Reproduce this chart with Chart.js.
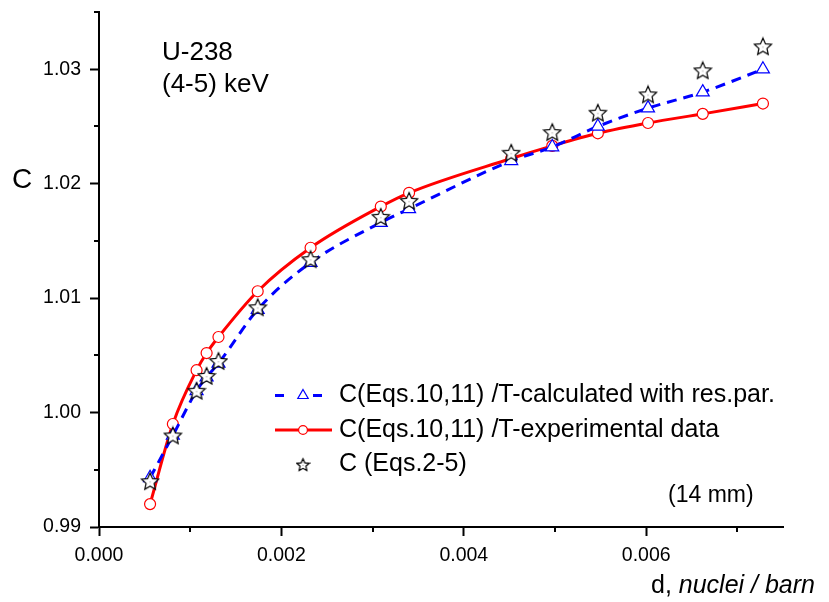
<html>
  <head>
    <title>U-238 C vs d</title>
    <style>
      body { margin: 0; background: #fff; }
    </style>
  </head>
  <body>
    <canvas id="chart" width="829" height="602"></canvas>

    <script src="https://cdn.jsdelivr.net/npm/chart.js@4"></script>
    <script type="text/javascript">
      // sample thickness d, nuclei/barn
      const thickness = [
        0.00056, 0.00081, 0.00107, 0.00118, 0.00131, 0.00174, 0.00232, 0.00309,
        0.0034, 0.00452, 0.00497, 0.00547, 0.00602, 0.00662, 0.00728,
      ];
      // C(Eqs.10,11) /T-calculated with res.par.
      const cCalculated = [
        0.9943, 0.998, 1.0019, 1.0031, 1.0043, 1.009, 1.0131, 1.0166,
        1.0178, 1.022, 1.0232, 1.025, 1.0266, 1.028, 1.03,
      ];
      // C(Eqs.10,11) /T-experimental data
      const cExperimental = [
        0.992, 0.999, 1.0037, 1.0052, 1.0066, 1.0106, 1.0144, 1.018,
        1.0192, 1.0222, 1.0233, 1.0244, 1.0253, 1.0261, 1.027,
      ];
      // C (Eqs.2-5)
      const cEqs = [
        0.994, 0.998, 1.0019, 1.0032, 1.0045, 1.0092, 1.0134, 1.0171,
        1.0185, 1.0227, 1.0245, 1.0262, 1.0278, 1.0299, 1.032,
      ];

      const seriesLabels = [
        'C(Eqs.10,11) /T-calculated with res.par.',
        'C(Eqs.10,11) /T-experimental data',
        'C (Eqs.2-5)',
      ];
      const xTicksMajor = [0, 0.002, 0.004, 0.006];
      const yTicksMajor = [0.99, 1.0, 1.01, 1.02, 1.03];

      const font = '"Liberation Sans", Arial, sans-serif';
      const toPoints = (ys) => thickness.map((x, i) => ({ x, y: ys[i] }));
      const isMajor = (list, v) => list.some((m) => Math.abs(m - v) < 1e-9);

      function makeStar(size) {
        const c = document.createElement('canvas');
        c.width = c.height = size;
        const g = c.getContext('2d');
        const cx = size / 2;
        const cy = size / 2 + 0.8;
        const outer = size / 2 - 1;
        const inner = outer * 0.47;
        g.beginPath();
        for (let i = 0; i < 10; i++) {
          const a = -Math.PI / 2 + (i * Math.PI) / 5;
          const r = i % 2 ? inner : outer;
          g.lineTo(cx + r * Math.cos(a), cy + r * Math.sin(a));
        }
        g.closePath();
        g.fillStyle = '#fff';
        g.fill();
        g.strokeStyle = '#000';
        g.lineWidth = 1.2;
        g.stroke();
        g.fillStyle = '#888';
        g.fillRect(cx - 0.5, cy - 0.5, 1, 1);
        return c;
      }
      const starImg = makeStar(20);
      const starImgSmall = makeStar(15);

      const minorTicks = {
        id: 'minorTicks',
        afterDraw(chart) {
          const { ctx } = chart;
          ctx.save();
          ctx.strokeStyle = '#000';
          ctx.lineWidth = 2;
          const xs = chart.scales.x;
          const ys = chart.scales.y;
          xs.ticks.forEach(({ value }) => {
            if (isMajor(xTicksMajor, value)) return;
            const px = Math.round(xs.getPixelForValue(value));
            ctx.beginPath();
            ctx.moveTo(px, ys.bottom);
            ctx.lineTo(px, ys.bottom + 5);
            ctx.stroke();
          });
          ys.ticks.forEach(({ value }) => {
            if (isMajor(yTicksMajor, value)) return;
            const py = Math.round(ys.getPixelForValue(value));
            ctx.beginPath();
            ctx.moveTo(xs.left, py);
            ctx.lineTo(xs.left - 5, py);
            ctx.stroke();
          });
          ctx.restore();
        },
      };

      const annotations = {
        id: 'annotations',
        afterDraw(chart) {
          const { ctx } = chart;
          ctx.save();
          ctx.fillStyle = '#000';
          ctx.textBaseline = 'alphabetic';
          ctx.textAlign = 'left';
          ctx.font = `26px ${font}`;
          ctx.fillText('U-238', 162, 60);
          ctx.fillText('(4-5) keV', 162, 92);
          ctx.font = `28px ${font}`;
          ctx.fillText('C', 12, 188);
          ctx.font = `23px ${font}`;
          ctx.fillText('(14 mm)', 668, 502);

          // x axis title, right aligned, italic units
          ctx.font = `italic 25px ${font}`;
          const unit = 'nuclei / barn';
          const wUnit = ctx.measureText(unit).width;
          ctx.font = `25px ${font}`;
          const lead = 'd, ';
          const wLead = ctx.measureText(lead).width;
          const xEnd = 815;
          ctx.fillText(lead, xEnd - wUnit - wLead, 593);
          ctx.font = `italic 25px ${font}`;
          ctx.fillText(unit, xEnd - wUnit, 593);

          // legend inside the plot
          const rows = [395.5, 430, 464.5];
          chart.data.datasets.forEach((ds, i) => {
            const y = rows[i];
            if (ds.showLine !== false) {
              ctx.strokeStyle = ds.borderColor;
              ctx.lineWidth = ds.borderWidth;
              ctx.beginPath();
              if (ds.borderDash) {
                ctx.moveTo(275, y);
                ctx.lineTo(284, y);
                ctx.moveTo(313, y);
                ctx.lineTo(322, y);
              } else {
                ctx.moveTo(275, y);
                ctx.lineTo(332, y);
              }
              ctx.stroke();
            }
            ctx.fillStyle = ds.pointBackgroundColor;
            ctx.strokeStyle = ds.pointBorderColor;
            ctx.lineWidth = ds.pointBorderWidth;
            const style = ds.pointStyle === starImg ? starImgSmall : ds.pointStyle;
            Chart.helpers.drawPoint(
              ctx,
              { pointStyle: style, radius: ds.pointRadius * 0.8, borderWidth: ds.pointBorderWidth, rotation: 0 },
              303,
              y,
            );
            ctx.fillStyle = '#000';
            ctx.font = `25px ${font}`;
            ctx.fillText(ds.label, 339, y + 6.5);
          });
          ctx.restore();
        },
      };

      new Chart(document.getElementById('chart'), {
        type: 'line',
        data: {
          datasets: [
            {
              label: seriesLabels[0],
              data: toPoints(cCalculated),
              borderColor: '#0000ff',
              borderWidth: 3,
              borderDash: [10, 7],
              cubicInterpolationMode: 'monotone',
              pointStyle: 'triangle',
              pointRadius: 7.5,
              pointBorderColor: '#0000ff',
              pointBackgroundColor: '#ffffff',
              pointBorderWidth: 1.2,
              order: 1,
            },
            {
              label: seriesLabels[1],
              data: toPoints(cExperimental),
              borderColor: '#ff0000',
              borderWidth: 3,
              cubicInterpolationMode: 'monotone',
              pointStyle: 'circle',
              pointRadius: 5.5,
              pointBorderColor: '#ff0000',
              pointBackgroundColor: '#ffffff',
              pointBorderWidth: 1.2,
              order: 2,
            },
            {
              label: seriesLabels[2],
              data: toPoints(cEqs),
              showLine: false,
              pointStyle: starImg,
              pointRadius: 9,
              pointBorderColor: '#000000',
              pointBackgroundColor: '#ffffff',
              pointBorderWidth: 1.4,
              order: 0,
            },
          ],
        },
        options: {
          responsive: false,
          animation: false,
          devicePixelRatio: 1,
          layout: { padding: { top: 12, right: 46, left: 0, bottom: 0 } },
          plugins: { legend: { display: false }, tooltip: { enabled: false } },
          scales: {
            x: {
              type: 'linear',
              min: 0,
              max: 0.0075,
              border: { color: '#000', width: 2 },
              grid: {
                drawOnChartArea: false,
                tickLength: 9,
                tickWidth: 2,
                tickColor: (c) => (c.tick && isMajor(xTicksMajor, c.tick.value) ? '#000' : 'rgba(0,0,0,0)'),
              },
              ticks: {
                stepSize: 0.001,
                includeBounds: false,
                maxRotation: 0,
                autoSkip: false,
                padding: 8,
                color: '#000',
                font: { family: font, size: 19.5 },
                callback: (v) => (isMajor(xTicksMajor, v) ? v.toFixed(3) : ''),
              },
              afterFit: (scale) => {
                scale.height = 75;
                scale.paddingLeft = 0;
                scale.paddingRight = 0;
              },
            },
            y: {
              type: 'linear',
              min: 0.99,
              max: 1.035,
              border: { color: '#000', width: 2 },
              grid: {
                drawOnChartArea: false,
                tickLength: 9,
                tickWidth: 2,
                tickColor: (c) => (c.tick && isMajor(yTicksMajor, c.tick.value) ? '#000' : 'rgba(0,0,0,0)'),
              },
              ticks: {
                stepSize: 0.005,
                includeBounds: false,
                autoSkip: false,
                padding: 9,
                color: '#000',
                font: { family: font, size: 19.5 },
                callback: (v) => (isMajor(yTicksMajor, v) ? v.toFixed(2) : ''),
              },
              afterFit: (scale) => {
                scale.width = 99;
                scale.paddingTop = 0;
                scale.paddingBottom = 0;
              },
            },
          },
        },
        plugins: [minorTicks, annotations],
      });
    </script>
  </body>
</html>
